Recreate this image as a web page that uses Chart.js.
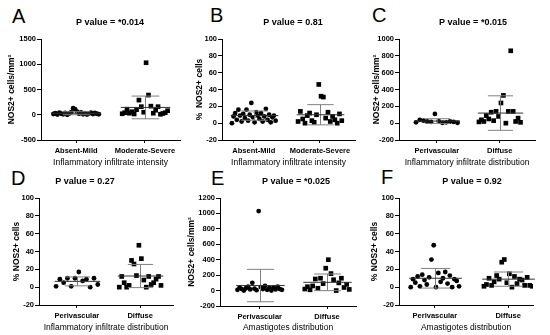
<!DOCTYPE html>
<html>
<head>
<meta charset="utf-8">
<script src="https://cdn.jsdelivr.net/npm/chart.js@4.4.1/dist/chart.umd.min.js"></script>
<style>
body{margin:0;background:#fff;width:550px;height:335px;position:relative;overflow:hidden;font-family:"Liberation Sans",Arial,sans-serif;}
canvas{position:absolute;}
.letra{position:absolute;font-size:20px;line-height:20px;color:#000;}
</style>
</head>
<body>
<div class="letra" style="left:12px;top:6px">A</div>
<div class="letra" style="left:210px;top:5px">B</div>
<div class="letra" style="left:372px;top:5px">C</div>
<div class="letra" style="left:11px;top:168px">D</div>
<div class="letra" style="left:211px;top:168px">E</div>
<div class="letra" style="left:381px;top:167px">F</div>

<canvas id="gA" width="185" height="170" style="left:0;top:0"></canvas>
<canvas id="gB" width="177" height="170" style="left:183px;top:0"></canvas>
<canvas id="gC" width="190" height="170" style="left:360px;top:0"></canvas>
<canvas id="gD" width="185" height="165" style="left:0;top:170px"></canvas>
<canvas id="gE" width="177" height="165" style="left:183px;top:170px"></canvas>
<canvas id="gF" width="190" height="165" style="left:360px;top:170px"></canvas>

<script>
// categorias e textos
var catIntensidade = ['Absent-Mild', 'Moderate-Severe'];
var catDistribuicao = ['Perivascular', 'Diffuse'];
var titulosP = ['P value = *0.014', 'P value = 0.81', 'P value = *0.015', 'P value = 0.27', 'P value = *0.025', 'P value = 0.92'];
var titulosY = ['NOS2+ cells/mm²', '%  NOS2+ cells', 'NOS2+ cells/mm²', '% NOS2+ cells', 'NOS2+ cells/mm²', '% NOS2+ cells'];
var titulosX = ['Inflammatory infiltrate intensity', 'Inflammatory infiltrate intensity', 'Inflammatory infiltrate distribution',
                'Inflammatory infiltrate distribution', 'Amastigotes distribution', 'Amastigotes distribution'];

// valores
var grupoA1 = [15, 30, 5, 40, 20, 10, 35, 0, 25, 50, 130, 110, 60, 20, 45, 10, 30, 5, 25, 40, 15, 35, 20, 10];
var grupoA2 = [20, 40, 110, 30, 60, 15, 100, 290, 160, 50, 1030, 390, 170, 30, 90, 160, 10, 25, 40, 80];
var mediaA = [30, 145];
var dpA = [30, 225];

var grupoB1 = [0, 8, 12, 4, 16, 9, 2, 11, 6, 16, 3, 10, 24, 7, 1, 13, 9, 5, 12, 2, 8, 17, 4, 10, 1, 7, 9, 3];
var grupoB2 = [2, 14, 5, 0, 9, 12, 3, 1, 10, 46, 32, 31, 6, 13, 2, 8, 4, 0, 11, 3];
var mediaB = [9, 10];
var dpB = [5.5, 12];

var grupoC1 = [10, 40, 30, 20, 15, 110, 25, 5, 10, 20, 15, 5];
var grupoC2 = [15, 40, 20, 90, 50, 130, 30, 140, 80, 240, 330, 0, 140, 860, 140, 20, 60, 10];
var mediaC = [25, 120];
var dpC = [28, 205];

var grupoD1 = [1, 9, 5, 10, 1, 10, 17, 7, 9, 0, 10, 3];
var grupoD2 = [0, 12, 5, 0, 2, 30, 26, 13, 47, 32, 8, 0, 12, 3, 5, 9, 12, 2];
var mediaD = [6.5, 12.5];
var dpD = [5, 13];

var grupoE1 = [10, 40, 20, 0, 30, 50, 15, 100, 25, 5, 1030, 45, 20, 60, 10, 30, 0, 40, 15, 50, 20, 10];
var grupoE2 = [20, 50, 10, 60, 150, 30, 160, 90, 290, 400, 220, 140, 0, 100, 160, 40, 80, 15];
var mediaE = [65, 107];
var dpE = [210, 108];

var grupoF1 = [0, 9, 5, 12, 1, 14, 8, 3, 11, 31, 47, 0, 16, 6, 10, 17, 4, 13, 0, 9, 7, 1];
var grupoF2 = [1, 3, 10, 2, 6, 13, 9, 28, 31, 5, 15, 0, 12, 4, 9, 8, 2, 11, 2, 1];
var mediaF = [10, 9];
var dpF = [11, 8];

Chart.defaults.font.family = '"Liberation Sans", Arial, sans-serif';
Chart.defaults.color = '#000';

// media e desvio padrao + titulo do painel
var barrasPlugin = {
    id: 'barras',
    afterDatasetsDraw: function(chart, args, op){
        var ctx = chart.ctx, sx = chart.scales.x, sy = chart.scales.y;
        ctx.save();
        ctx.lineWidth = 1;
        for(var g=0; g<op.medias.length; g++){
            var cx = Math.round(sx.getPixelForValue(g)) + 0.5;
            var m = sy.getPixelForValue(op.medias[g]);
            var t = sy.getPixelForValue(op.medias[g] + op.dps[g]);
            var b = sy.getPixelForValue(op.medias[g] - op.dps[g]);
            var wm = sx.getPixelForValue(g + 0.36) - sx.getPixelForValue(g);
            var wc = sx.getPixelForValue(g + 0.2) - sx.getPixelForValue(g);
            ctx.strokeStyle = '#808080';
            ctx.beginPath();
            ctx.moveTo(cx, t); ctx.lineTo(cx, b);
            ctx.moveTo(cx - wc, t); ctx.lineTo(cx + wc, t);
            ctx.moveTo(cx - wc, b); ctx.lineTo(cx + wc, b);
            ctx.stroke();
            ctx.strokeStyle = '#333';
            ctx.beginPath();
            ctx.moveTo(cx - wm, m); ctx.lineTo(cx + wm, m);
            ctx.stroke();
        }
        ctx.font = 'bold 9px "Liberation Sans", Arial, sans-serif';
        ctx.fillStyle = '#000';
        ctx.textAlign = 'center';
        ctx.textBaseline = 'middle';
        ctx.fillText(op.titulo, op.tituloX, chart.chartArea.top - 16);
        ctx.restore();
    }
};

function espalha(i, n){
    return -0.33 + 0.66 * i / (n - 1);
}

function criaGrafico(id, p){
    var d0 = [], d1 = [];
    for(var i=0;i<p.g0.length;i++){
        d0.push({x: espalha(i, p.g0.length), y: p.g0[i]});
    }
    for(var i=0;i<p.g1.length;i++){
        d1.push({x: 1 + espalha(i, p.g1.length), y: p.g1[i]});
    }

    new Chart(id, {
        type: 'scatter',
        data: {
            datasets: [
                {data: d0, pointStyle: 'circle', pointRadius: 2.4, backgroundColor: '#000', borderWidth: 0},
                {data: d1, pointStyle: 'rect', pointRadius: 3.3, backgroundColor: '#000', borderWidth: 0}
            ]
        },
        plugins: [barrasPlugin],
        options: {
            responsive: false,
            animation: false,
            events: [],
            layout: {padding: {top: p.topo, right: p.direita, left: 0, bottom: 0}},
            plugins: {
                legend: {display: false},
                tooltip: {enabled: false},
                barras: {medias: p.medias, dps: p.dps, titulo: p.titulo, tituloX: p.tituloX}
            },
            scales: {
                x: {
                    type: 'linear',
                    min: p.xmin,
                    max: p.xmax,
                    afterFit: function(s){ s.height = p.altX; },
                    afterBuildTicks: function(s){ s.ticks = [{value: 0}, {value: 1}]; },
                    ticks: {
                        callback: function(v){ return p.cats[v]; },
                        font: {size: 7.5, weight: 'bold'},
                        padding: 3, maxRotation: 0, autoSkip: false
                    },
                    grid: {drawOnChartArea: false, tickLength: 3, color: '#000'},
                    border: {color: '#000'},
                    title: {display: true, text: p.tx, font: {size: 8.5}, padding: {top: 0, bottom: 2}}
                },
                y: {
                    min: p.ymin,
                    max: p.ymax,
                    afterFit: function(s){ s.width = p.largY; },
                    ticks: {
                        stepSize: p.passo,
                        callback: function(v){ return String(v); },
                        font: {size: 7.5, weight: 'bold'}, padding: 1
                    },
                    grid: {drawOnChartArea: false, tickLength: 4, color: '#000'},
                    border: {color: '#000'},
                    title: {display: true, text: p.ty, font: {size: 8.5, weight: 'bold'}, padding: {top: p.padTY, bottom: 0}}
                }
            }
        }
    });
}

criaGrafico('gA', {g0: grupoA1, g1: grupoA2, medias: mediaA, dps: dpA, cats: catIntensidade,
    titulo: titulosP[0], tituloX: 110, ty: titulosY[0], tx: titulosX[0],
    ymin: -500, ymax: 1500, passo: 500, xmin: -0.51, xmax: 1.51,
    topo: 39, direita: 5, largY: 41, altX: 30, padTY: 7});

criaGrafico('gB', {g0: grupoB1, g1: grupoB2, medias: mediaB, dps: dpB, cats: catIntensidade,
    titulo: titulosP[1], tituloX: 293 - 183, ty: titulosY[1], tx: titulosX[1],
    ymin: -20, ymax: 100, passo: 20, xmin: -0.48, xmax: 1.53,
    topo: 39, direita: 5, largY: 39, altX: 30, padTY: 12});

criaGrafico('gC', {g0: grupoC1, g1: grupoC2, medias: mediaC, dps: dpC, cats: catDistribuicao,
    titulo: titulosP[2], tituloX: 473 - 360, ty: titulosY[2], tx: titulosX[2],
    ymin: -200, ymax: 1000, passo: 200, xmin: -0.6, xmax: 1.56,
    topo: 39, direita: 15, largY: 39, altX: 30, padTY: 12});

criaGrafico('gD', {g0: grupoD1, g1: grupoD2, medias: mediaD, dps: dpD, cats: catDistribuicao,
    titulo: titulosP[3], tituloX: 85, ty: titulosY[3], tx: titulosX[3],
    ymin: -20, ymax: 100, passo: 20, xmin: -0.6, xmax: 1.52,
    topo: 28, direita: 12, largY: 39, altX: 30, padTY: 12});

criaGrafico('gE', {g0: grupoE1, g1: grupoE2, medias: mediaE, dps: dpE, cats: catDistribuicao,
    titulo: titulosP[4], tituloX: 296 - 183, ty: titulosY[4], tx: titulosX[4],
    ymin: -200, ymax: 1200, passo: 200, xmin: -0.59, xmax: 1.43,
    topo: 28, direita: 3, largY: 37, altX: 29, padTY: 4});

criaGrafico('gF', {g0: grupoF1, g1: grupoF2, medias: mediaF, dps: dpF, cats: catDistribuicao,
    titulo: titulosP[5], tituloX: 472 - 360, ty: titulosY[5], tx: titulosX[5],
    ymin: -20, ymax: 100, passo: 20, xmin: -0.49, xmax: 1.34,
    topo: 28, direita: 17, largY: 39, altX: 30, padTY: 10});
</script>
</body>
</html>
